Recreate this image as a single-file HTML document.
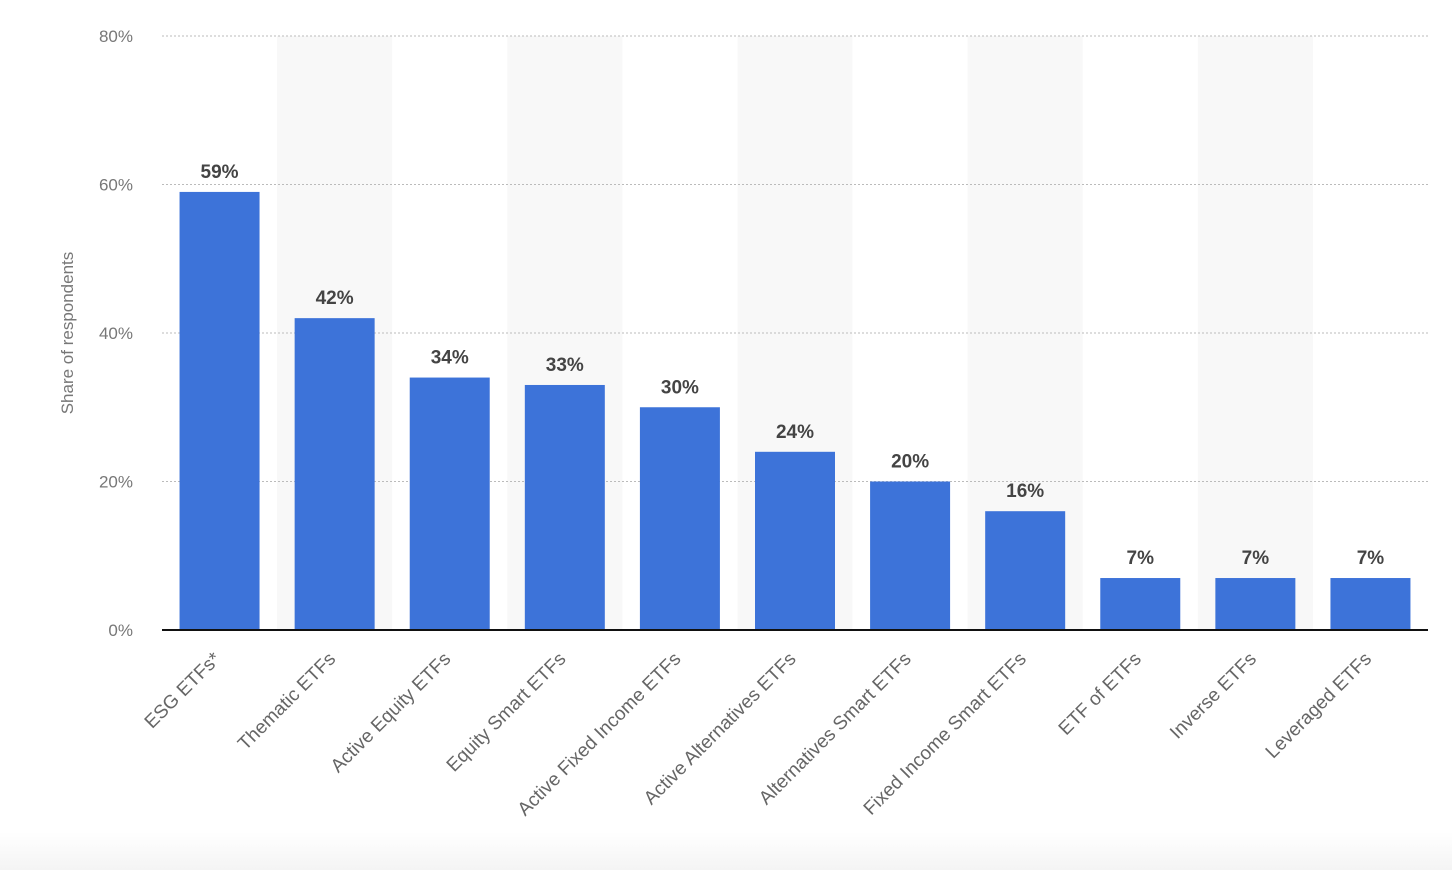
<!DOCTYPE html>
<html><head><meta charset="utf-8"><style>
html,body{margin:0;padding:0;background:#fff;}
svg{display:block;font-family:"Liberation Sans",sans-serif;}
</style></head><body>
<svg id="chart" width="1452" height="870" viewBox="0 0 1452 870">
<defs><linearGradient id="bg" x1="0" y1="0" x2="0" y2="1"><stop offset="0" stop-color="#ffffff"/><stop offset="1" stop-color="#f4f4f4"/></linearGradient></defs>
<rect x="0" y="832" width="1452" height="38" fill="url(#bg)"/>
<g id="bands"></g><g id="grid"></g><g id="bars"></g><g id="labels"></g>
<line x1="162" y1="630" x2="1428" y2="630" stroke="#111" stroke-width="2"/>
<text x="0" y="0" transform="translate(73,333) rotate(-90)" text-anchor="middle" font-size="17" fill="#777">Share of respondents</text>
</svg>
<script>
const categories=["ESG ETFs*","Thematic ETFs","Active Equity ETFs","Equity Smart ETFs","Active Fixed Income ETFs","Active Alternatives ETFs","Alternatives Smart ETFs","Fixed Income Smart ETFs","ETF of ETFs","Inverse ETFs","Leveraged ETFs"];
const values=[59,42,34,33,30,24,20,16,7,7,7];
const yTicks=[0,20,40,60,80];
const NS="http://www.w3.org/2000/svg";
const L=162,R=1428,T=36,B=630,yMax=80;
const bw=(R-L)/categories.length;
const y=v=>B-(v/yMax)*(B-T);
const xc=i=>L+bw*(i+0.5);
function mk(t,a,p){const e=document.createElementNS(NS,t);for(const k in a)e.setAttribute(k,a[k]);p.appendChild(e);return e;}
const bands=document.getElementById('bands'),grid=document.getElementById('grid'),bars=document.getElementById('bars'),labels=document.getElementById('labels');
categories.forEach((c,i)=>{if(i%2===1){const r=mk('rect',{x:L+bw*i,y:T,width:bw,height:B-T,fill:'#f8f8f8'},bands);

}});
yTicks.forEach(t=>{if(t>0){const l=mk('line',{x1:L,x2:R,y1:y(t),y2:y(t),stroke:'#bbb','stroke-width':1,'stroke-dasharray':'2,2'},grid);

}
const tx=mk('text',{x:133,y:y(t)+6,'text-anchor':'end','font-size':17,fill:'#777'},grid);tx.textContent=t+'%';

});
categories.forEach((c,i)=>{const v=values[i];
const r=mk('rect',{x:xc(i)-40,y:y(v),width:80,height:B-y(v),fill:'#3d73d9'},bars);


const vt=mk('text',{x:xc(i),y:y(v)-14,'text-anchor':'middle','font-size':19,'font-weight':'bold',fill:'#444'},labels);vt.textContent=v+'%';


const ct=mk('text',{x:0,y:0,transform:'translate('+(xc(i)+2)+',660) rotate(-45)','text-anchor':'end','font-size':19,fill:'#666'},labels);ct.textContent=c;

});
</script>
</body></html>
